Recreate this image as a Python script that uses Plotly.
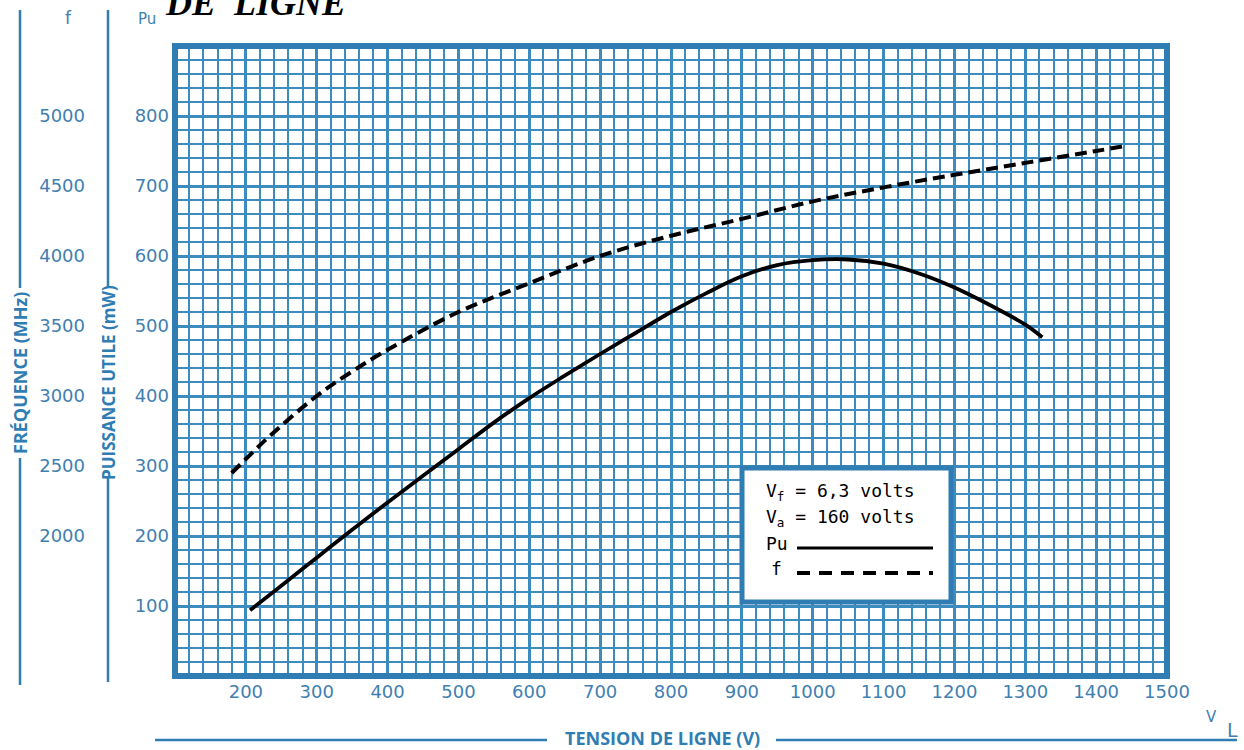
import plotly.graph_objects as go

# ---------------- data ----------------
V_pu = [206, 250, 300, 350, 400, 450, 500, 550, 600, 650, 700, 750, 800,
        850, 900, 950, 1000, 1050, 1100, 1150, 1200, 1250, 1300, 1324]
Pu_mw = [94, 129, 169, 209, 248, 286, 324, 362, 397, 429, 460, 490, 520,
         547, 571, 587, 594, 595, 589, 575, 555, 530, 502, 484]

V_f = [180, 200, 235, 300, 350, 400, 500, 600, 700, 800, 900, 1000,
       1100, 1200, 1300, 1400, 1440]
f_mhz = [2450, 2550, 2720, 3000, 3175, 3330, 3600, 3805, 4000, 4145,
         4265, 4390, 4490, 4580, 4665, 4750, 4785]

x_ticks = [200, 300, 400, 500, 600, 700, 800, 900, 1000, 1100, 1200, 1300, 1400, 1500]
pu_ticks = [100, 200, 300, 400, 500, 600, 700, 800]
f_ticks = [2000, 2500, 3000, 3500, 4000, 4500, 5000]

# ---------------- styling / layout helpers ----------------
W, H = 1244, 750
PLOT_LEFT, PLOT_RIGHT, PLOT_TOP, PLOT_BOTTOM = 175, 1167, 46, 676
ML, MR, MT, MB = 0, W - PLOT_RIGHT, PLOT_TOP, H - PLOT_BOTTOM
PW, PH = W - ML - MR, H - MT - MB

def px(x):
    return x / PW

def py(y):
    return (PLOT_BOTTOM - y) / PH

GRID = "#3d8cbf"
FRAME = "#2f7db2"
TXT = "#3f80b0"
TICKFONT = dict(family="DejaVu Sans", size=18, color=TXT)

fig = go.Figure()

fig.add_trace(go.Scatter(
    x=V_pu, y=Pu_mw, mode="lines", name="Pu",
    line=dict(color="black", width=3.8, shape="spline", smoothing=1.0),
    showlegend=False, yaxis="y", hoverinfo="x+y"))

fig.add_trace(go.Scatter(
    x=V_f, y=f_mhz, mode="lines", name="f",
    line=dict(color="black", width=4, dash="12px,6px", shape="spline", smoothing=1.0),
    showlegend=False, yaxis="y2", hoverinfo="x+y"))

fig.update_layout(
    width=W, height=H,
    margin=dict(l=ML, r=MR, t=MT, b=MB),
    paper_bgcolor="white", plot_bgcolor="white",
    xaxis=dict(
        domain=[PLOT_LEFT / PW, 1], range=[100, 1500],
        tickmode="array", tickvals=x_ticks, ticktext=[str(v) for v in x_ticks],
        tickfont=TICKFONT, ticks="", ticklabelstandoff=3,
        showgrid=True, gridcolor=GRID, gridwidth=2.6,
        minor=dict(tickmode="linear", tick0=100, dtick=20, showgrid=True,
                   gridcolor=GRID, gridwidth=1.5),
        showline=False, zeroline=False, fixedrange=True),
    yaxis=dict(
        range=[0, 900],
        tickmode="array", tickvals=pu_ticks, ticktext=[str(v) for v in pu_ticks],
        tickfont=TICKFONT, ticks="", ticklabelstandoff=5,
        showgrid=True, gridcolor=GRID, gridwidth=2.6,
        minor=dict(tickmode="linear", tick0=0, dtick=20, showgrid=True,
                   gridcolor=GRID, gridwidth=1.5),
        showline=False, zeroline=False, fixedrange=True),
    yaxis2=dict(
        range=[1000, 5500], overlaying="y", anchor="free", side="left",
        position=px(85),
        tickmode="array", tickvals=f_ticks, ticktext=[str(v) for v in f_ticks],
        tickfont=TICKFONT, ticks="", showgrid=False, showline=False,
        zeroline=False, fixedrange=True),
)

shapes = []
# plot frame, centred on the data edges
shapes.append(dict(type="rect", xref="x domain", yref="y domain",
                   x0=0, x1=1, y0=0, y1=1, fillcolor="rgba(0,0,0,0)",
                   line=dict(color=FRAME, width=6), layer="above"))

def L(x0, y0, x1, y1, width=2.5, color=FRAME, dash=None, layer="below"):
    ln = dict(color=color, width=width)
    if dash:
        ln["dash"] = dash
    shapes.append(dict(type="line", xref="paper", yref="paper",
                       x0=px(x0), x1=px(x1), y0=py(y0), y1=py(y1),
                       line=ln, layer=layer))

# left decorative vertical rules (broken around the axis titles)
L(20, 10, 20, 288)
L(20, 458, 20, 685)
L(108, 10, 108, 288)
L(108, 478, 108, 682)
# bottom rule (broken around the axis title)
L(155, 740, 547, 740)
L(776, 740, 1237, 740)
# legend box
shapes.append(dict(type="rect", xref="paper", yref="paper",
                   x0=px(742), x1=px(951), y0=py(602), y1=py(468),
                   fillcolor="white", line=dict(color=FRAME, width=5), layer="above"))
# legend samples
L(797, 548, 933, 548, width=3, color="black", layer="above")
L(797, 573, 933, 573, width=4, color="black", dash="13px,9px", layer="above")
fig.update_layout(shapes=shapes)

ann = []
def A(text, x, y, xanchor="center", yanchor="middle", **kw):
    d = dict(text=text, xref="paper", yref="paper", x=px(x), y=py(y),
             xanchor=xanchor, yanchor=yanchor, showarrow=False)
    d.update(kw)
    ann.append(d)

A("<b>FRÉQUENCE (MHz)</b>", 20, 373, textangle=-90,
  font=dict(family="Open Sans", size=18, color=FRAME))
A("<b>PUISSANCE UTILE (mW)</b>", 108, 383, textangle=-90,
  font=dict(family="Open Sans", size=17, color=FRAME))
A("<b>TENSION DE LIGNE (V)</b>", 662, 738,
  font=dict(family="Open Sans", size=18, color=FRAME))
A("f", 68, 18, font=dict(family="DejaVu Sans", size=17, color=TXT))
A("Pu", 147, 19, font=dict(family="DejaVu Sans", size=15, color=TXT))
A("V", 1211, 717, font=dict(family="DejaVu Sans", size=15, color=TXT))
A("L", 1233, 730, font=dict(family="DejaVu Sans", size=19, color=TXT))
A("<b><i>DE  LIGNE</i></b>", 163, 25, xanchor="left", yanchor="bottom",
  font=dict(family="Liberation Serif", size=36, color="black"))

LEG = dict(family="DejaVu Sans Mono", size=18, color="black")
A("V<sub>f</sub> = 6,3 volts", 764, 492, xanchor="left", font=LEG)
A("V<sub>a</sub> = 160 volts", 764, 518, xanchor="left", font=LEG)
A("Pu", 764, 543, xanchor="left", font=LEG)
A("f", 769, 568, xanchor="left", font=LEG)
fig.update_layout(annotations=ann)

fig.write_html("out.html", config={"displayModeBar": False},
               post_script="document.body.style.margin='0px';")
